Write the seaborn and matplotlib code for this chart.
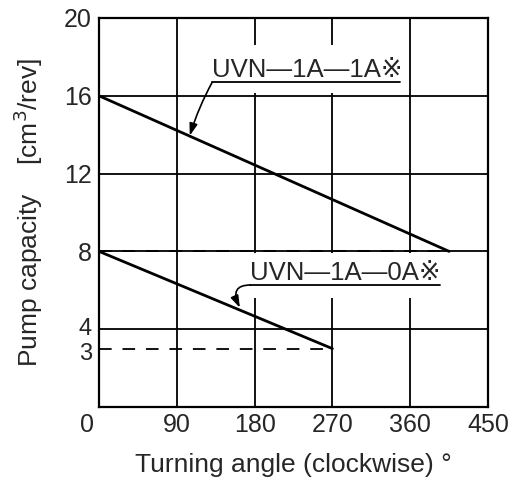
import matplotlib
matplotlib.use("Agg")
import matplotlib.pyplot as plt
import matplotlib.transforms as mtransforms
import seaborn as sns
import pandas as pd
from matplotlib.patches import Rectangle

sns.set_theme(style="white")
plt.rcParams['font.family'] = ['Liberation Sans', 'DejaVu Sans']

# Data
angle_1a = [0, 405]
cap_1a = [16, 8]
angle_0a = [0, 270]
cap_0a = [8, 3]
label_1a = "UVN—1A—1A※"
label_0a = "UVN—1A—0A※"
x_ticks = [0, 90, 180, 270, 360, 450]
y_ticks = [3, 4, 8, 12, 16, 20]
grid_x = [90, 180, 270, 360]
grid_y = [4, 8, 12, 16]
dash_levels = [8, 3]
dash_ends = [405, 270]

df = pd.concat([
    pd.DataFrame({"angle": angle_1a, "cap": cap_1a, "model": label_1a}),
    pd.DataFrame({"angle": angle_0a, "cap": cap_0a, "model": label_0a}),
])

fig = plt.figure(figsize=(5.15, 4.86), dpi=100)
ax = fig.add_axes([0.1922, 0.1626, 0.7554, 0.8004])

for gx in grid_x:
    ax.axvline(gx, color="black", lw=1.3, zorder=1)
for gy in grid_y:
    ax.axhline(gy, color="black", lw=1.3, zorder=1)

# white masks behind labels (gaps in grid lines)
ax.add_patch(Rectangle((116, 16.15), 234, 2.45, facecolor="white", edgecolor="none", zorder=2))
ax.add_patch(Rectangle((165, 5.6), 228, 2.3, facecolor="white", edgecolor="none", zorder=2))

for lvl, end in zip(dash_levels, dash_ends):
    ax.plot([0, end], [lvl, lvl], color="black", lw=1.3, dashes=(7, 6), zorder=3)

sns.lineplot(data=df, x="angle", y="cap", hue="model", palette=["black", "black"],
             legend=False, lw=2.0, ax=ax, zorder=4)

# annotations
ax.text(131, 16.97, label_1a, fontsize=18.5, ha="left", va="baseline", zorder=5)
ax.plot([131, 348], [16.7, 16.7], color="black", lw=1.3, zorder=5)
ax.annotate("", xy=(105, 13.95), xytext=(131, 16.7),
            arrowprops=dict(arrowstyle="-|>,head_length=0.6,head_width=0.2", color="black", lw=1.2,
                            shrinkA=0, shrinkB=0,
                            connectionstyle="arc3,rad=0.05"),
            zorder=5)

ax.text(175, 6.53, label_0a, fontsize=18.5, ha="left", va="baseline", zorder=5)
ax.plot([175, 394], [6.27, 6.27], color="black", lw=1.3, zorder=5)
ax.annotate("", xy=(163, 5.1), xytext=(175, 6.27),
            arrowprops=dict(arrowstyle="-|>,head_length=0.6,head_width=0.2", color="black", lw=1.2,
                            shrinkA=0, shrinkB=0,
                            connectionstyle="angle3,angleA=180,angleB=-65"),
            zorder=5)

ax.set_xlim(0, 450)
ax.set_ylim(0, 20)
ax.set_xticks(x_ticks)
ax.set_yticks(y_ticks)
ax.set_xticklabels([str(v) for v in x_ticks], fontsize=18)
ax.set_yticklabels([str(v) for v in y_ticks], fontsize=18)
ax.tick_params(axis="x", length=0, pad=4)
ax.tick_params(axis="y", length=0, pad=5)
for s in ax.spines.values():
    s.set_color("black")
    s.set_linewidth(1.6)

# nudge labels like the reference
xl = ax.get_xticklabels()
xl[0].set_transform(xl[0].get_transform() + mtransforms.ScaledTranslation(-0.12, 0, fig.dpi_scale_trans))
yl = ax.get_yticklabels()
for lab, dy in zip(yl[:2], [-0.03, 0.03]):
    lab.set_fontsize(17)
    lab.set_transform(lab.get_transform() + mtransforms.ScaledTranslation(0, dy, fig.dpi_scale_trans))

ax.set_xlabel("Turning angle (clockwise) °", fontsize=19, labelpad=12)
ax.set_ylabel("Pump capacity    [cm$^3$/rev]", fontsize=19, labelpad=14)

fig.savefig("out.png", dpi=100)
